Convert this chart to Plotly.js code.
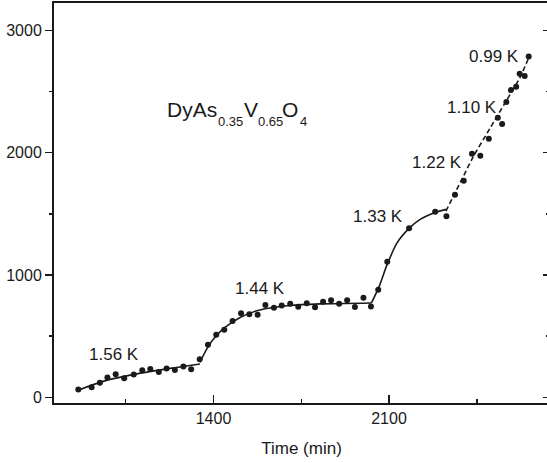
<!DOCTYPE html>
<html>
<head>
<meta charset="utf-8">
<script src="https://cdn.plot.ly/plotly-3.0.1.min.js"></script>
<style>
html, body { margin: 0; padding: 0; overflow: hidden; background: #fff; }
#chart { width: 549px; height: 463px; }
</style>
</head>
<body>
<div id="chart"></div>
<script>
// ---- data ----
// measured points, grouped by temperature step
var time156 = [861, 914, 947, 977, 1010, 1044, 1082, 1116, 1148, 1182, 1213, 1246, 1280, 1311];
var sig156  = [64, 82, 119, 162, 189, 156, 186, 221, 231, 207, 235, 223, 252, 229];

var time144 = [1345, 1378, 1411, 1443, 1476, 1510, 1543, 1576, 1607, 1641, 1672, 1706, 1738, 1772, 1805, 1837, 1869, 1901, 1933, 1964, 1998, 2028];
var sig144  = [310, 429, 511, 552, 624, 686, 678, 675, 754, 732, 750, 764, 739, 768, 735, 780, 793, 765, 792, 738, 814, 742];

var time133 = [2057, 2093, 2180, 2284, 2329];
var sig133  = [879, 1108, 1381, 1516, 1480];

var timeLow = [2363, 2398, 2431, 2464, 2498, 2534, 2551, 2568, 2586, 2607, 2621, 2641, 2657];
var sigLow  = [1655, 1770, 1990, 1974, 2114, 2284, 2233, 2413, 2511, 2538, 2645, 2627, 2786];

// fitted curves
var fit156T = [858, 966, 1094, 1226, 1346];
var fit156V = [56, 134, 191, 236, 272];
var fit144T = [1346, 1378, 1410, 1446, 1506, 1585, 1705, 1825, 2030];
var fit144V = [285, 412, 501, 571, 652, 714, 750, 763, 771];
var fit133T = [2030, 2060, 2092, 2132, 2180, 2224, 2284, 2327];
var fit133V = [771, 902, 1082, 1262, 1380, 1454, 1511, 1536];
var fitLowT = [2327, 2363, 2399, 2435, 2503, 2567, 2623, 2663];
var fitLowV = [1522, 1669, 1816, 1963, 2200, 2421, 2617, 2805];

// temperature labels
var tempLabels = ["1.56 K", "1.44 K", "1.33 K", "1.22 K", "1.10 K", "0.99 K"];
var tempLabelT = [1003, 1585, 2056, 2292, 2431, 2519];
var tempLabelV = [350, 885, 1480, 1920, 2369, 2782];

var xTitle = "Time (min)";
// compound formula: base parts and subscripts
var formulaParts = ["DyAs", "0.35", "V", "0.65", "O", "4"];
var formulaIsSub = [false, true, false, true, false, true];

// ---- drawing ----
var ink = "#1a1a1a";
var FONT = "Liberation Sans, Arial, Helvetica, sans-serif";

function pts(t, v) {
  return { x: t, y: v, mode: "markers", type: "scatter",
           marker: { color: ink, size: 6 }, showlegend: false, hoverinfo: "skip" };
}
function fit(t, v, dash) {
  return { x: t, y: v, mode: "lines", type: "scatter",
           line: { color: ink, width: 1.6, shape: "spline", smoothing: 0.8, dash: dash || "solid" },
           showlegend: false, hoverinfo: "skip" };
}

var traces = [
  fit(fit156T, fit156V), fit(fit144T, fit144V), fit(fit133T, fit133V),
  fit(fitLowT, fitLowV, "5px,3px"),
  pts(time156, sig156), pts(time144, sig144), pts(time133, sig133), pts(timeLow, sigLow),
  { x: [], y: [], yaxis: "y2", type: "scatter", mode: "markers", showlegend: false }
];

var yRange = [-47, 3223];
var annotations = tempLabels.map(function (s, i) {
  return { text: s, x: tempLabelT[i], y: tempLabelV[i], xref: "x", yref: "y",
           showarrow: false, xanchor: "center", yanchor: "middle",
           font: { family: FONT, size: 17, color: ink } };
});

// place formula pieces left to right (paper coords of the plot area)
var formulaX = [0.229, 0.331, 0.383, 0.412, 0.461, 0.497];
formulaParts.forEach(function (s, i) {
  annotations.push({ text: s, x: formulaX[i], y: formulaIsSub[i] ? 0.703 : 0.733,
    xref: "paper", yref: "paper", showarrow: false, xanchor: "left", yanchor: "middle",
    borderpad: 0, borderwidth: 0,
    font: { family: FONT, size: formulaIsSub[i] ? 13 : 21, color: ink } });
});

var layout = {
  width: 549, height: 463,
  margin: { l: 54, r: 0, t: 3, b: 60 },
  paper_bgcolor: "#fff", plot_bgcolor: "#fff",
  font: { family: FONT, color: ink },
  xaxis: {
    range: [764, 2738], tick0: 0, dtick: 700,
    ticks: "inside", ticklen: 8, tickwidth: 1.5, tickcolor: ink,
    minor: { ticks: "inside", dtick: 350, ticklen: 4, tickwidth: 1.5, tickcolor: ink, showgrid: false },
    showline: true, linewidth: 2, linecolor: ink, mirror: true,
    showgrid: false, zeroline: false,
    tickfont: { family: FONT, size: 16, color: ink },
    title: { text: xTitle, font: { family: FONT, size: 17, color: ink }, standoff: 16 }
  },
  yaxis: {
    range: yRange, tick0: 0, dtick: 1000,
    ticks: "outside", ticklen: 7, tickwidth: 1.5, tickcolor: ink,
    minor: { ticks: "outside", dtick: 500, ticklen: 3, tickwidth: 1.5, tickcolor: ink, showgrid: false },
    showline: true, linewidth: 2, linecolor: ink, mirror: false,
    showgrid: false, zeroline: false,
    tickfont: { family: FONT, size: 16, color: ink }
  },
  yaxis2: {
    overlaying: "y", side: "right", range: yRange, tick0: 0, dtick: 1000,
    ticks: "inside", ticklen: 6, tickwidth: 1.5, tickcolor: ink,
    minor: { ticks: "inside", dtick: 500, ticklen: 3, tickwidth: 1.5, tickcolor: ink, showgrid: false },
    showticklabels: false, showline: false, showgrid: false, zeroline: false
  },
  annotations: annotations
};

Plotly.newPlot("chart", traces, layout, { displayModeBar: false, staticPlot: true });
</script>
</body>
</html>
